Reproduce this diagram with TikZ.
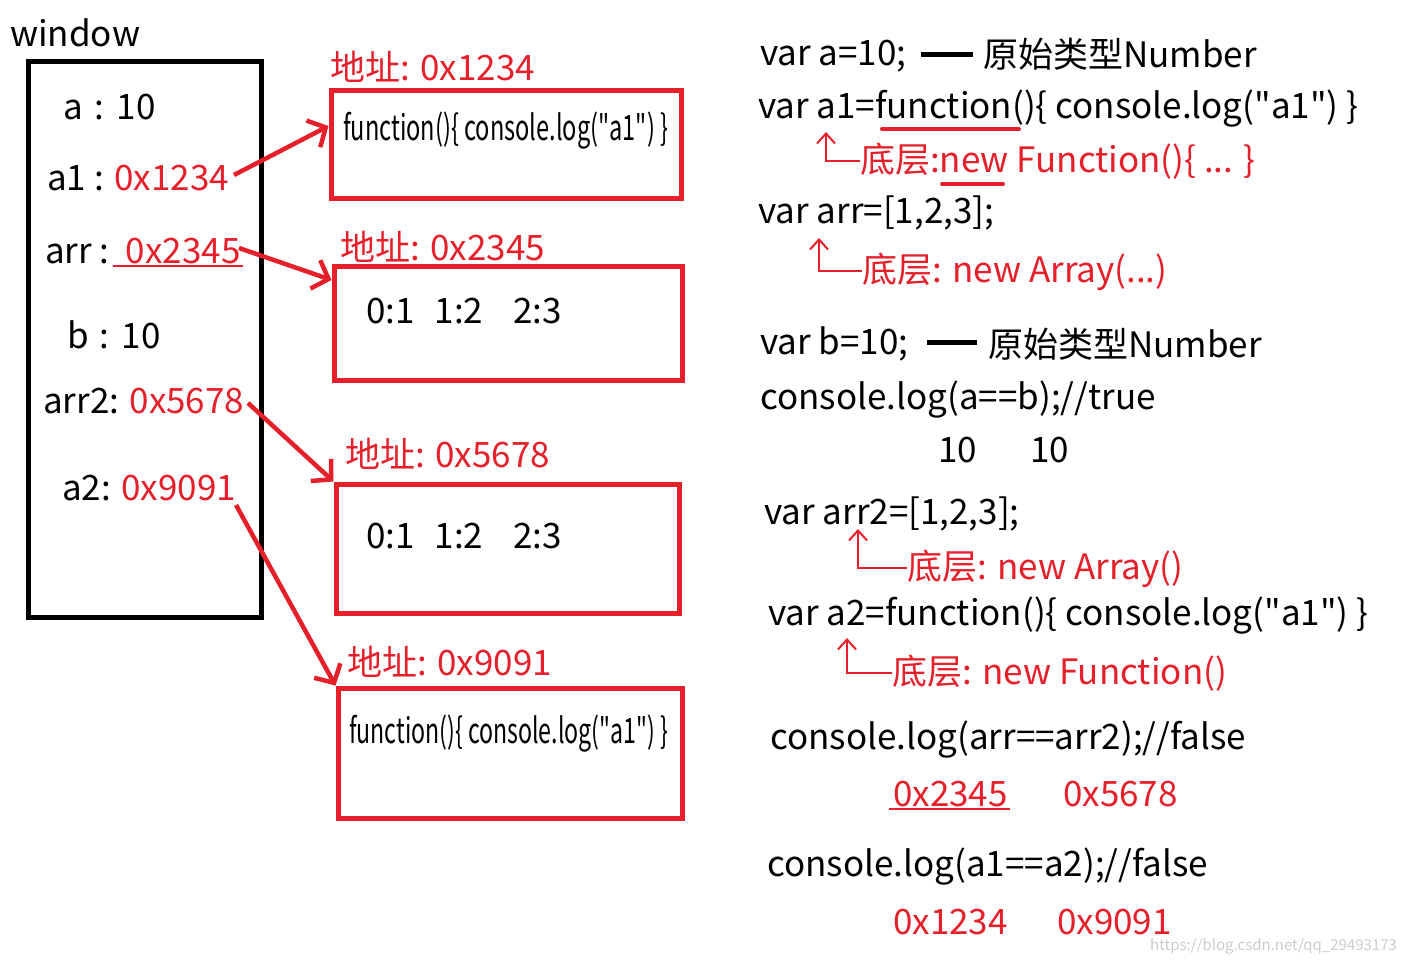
\documentclass[tikz,border=0pt]{standalone}
\usepackage{fontspec}
\setmainfont{Noto Sans CJK SC}[Ligatures=TeXOff]
\usetikzlibrary{arrows.meta}
\definecolor{myred}{RGB}{230,32,42}
\begin{document}
\begin{tikzpicture}[x=1pt,y=-1pt,
  t/.style={anchor=base west, inner sep=0pt, font=\fontsize{35}{42}\selectfont},
  rt/.style={t, text=myred},
  mem/.style={draw=myred, line width=5pt, inner sep=0pt},
  ptr/.style={draw=myred, line width=4.5pt, -{Straight Barb[length=14pt,width=30pt]}},
  hook/.style={draw=myred, line width=2pt, -{Straight Barb[length=10pt,width=18pt]}},
  ul/.style={draw=myred, line width=4pt, line cap=round},
  thinul/.style={draw=myred, line width=1.3pt},
  dashline/.style={draw=black, line width=5pt},
]
\useasboundingbox (0,0) rectangle (1403,962);
\fill[white] (0,0) rectangle (1403,962);

% window box
\node[draw, line width=5pt, inner sep=0pt, minimum width=233pt, minimum height=556pt] (winbox) at (144.5,339) {};
\node[t] (win) at (10,46) {window};
\node[t] (va) at (63,119) {a\hspace{4pt} : \hspace{2pt}10};
\node[t] (va1) at (47,190) {a1 : \textcolor{myred}{0x1234}};
\node[t] (varr) at (45,263) {arr : \textcolor{myred}{\,0x2345}};
\node[t] (vb) at (67,348) {b\hspace{3pt} : \hspace{2pt}10};
\node[t] (varr2) at (43,413) {arr2: \textcolor{myred}{0x5678}};
\node[t] (va2) at (62,500) {a2: \textcolor{myred}{0x9091}};
\coordinate (u1a) at (113,266);
\coordinate (u1b) at (243,266);
\draw[thinul] (u1a) -- (u1b);

% memory boxes
\node[mem, minimum width=350pt, minimum height=108pt] (m1) at (506,144) {};
\node[mem, minimum width=348pt, minimum height=114pt] (m2) at (508,323) {};
\node[mem, minimum width=343pt, minimum height=129pt] (m3) at (507.5,548.5) {};
\node[mem, minimum width=344pt, minimum height=130pt] (m4) at (510,753) {};

\node[rt] (l1) at (330,80) {地址: 0x1234};
\node[rt] (l2) at (340,260) {地址: 0x2345};
\node[rt] (l3) at (345,467) {地址: 0x5678};
\node[rt] (l4) at (347,675) {地址: 0x9091};

\node[t] (f1) at (343,140) {\resizebox{325pt}{\height}{function()\{ console.log("a1") \}}};
\node[t] (c2) at (366,323) {0:1\hspace{20pt}1:2\hspace{30pt}2:3};
\node[t] (c3) at (366,548) {0:1\hspace{20pt}1:2\hspace{30pt}2:3};
\node[t] (f4) at (349,743) {\resizebox{319pt}{\height}{function()\{ console.log("a1") \}}};

% pointers
\coordinate (s1) at (234,175);
\coordinate (s2) at (239,248);
\coordinate (s3) at (248,403);
\coordinate (s4) at (236,505);
\draw[ptr] (s1) -- ([yshift=18pt]m1.west);
\draw[ptr] (s2) -- ([yshift=43pt]m2.west);
\draw[ptr] (s3) -- (m3.north west);
\draw[ptr] (s4) -- (m4.north west);

% right column
\node[t] (r1) at (760,65) {var a=10;};
\node[t] (r1b) at (983,67) {原始类型Number};
\coordinate (d1a) at (921,54);
\coordinate (d1b) at (973,54);
\draw[dashline] (d1a) -- (d1b);

\node[t] (r2) at (758,118) {var a1=function()\{ console.log("a1") \}};
\coordinate (u2a) at (882,129);
\coordinate (u2b) at (1019,129);
\draw[ul] (u2a) -- (u2b);
\node[rt] (h1) at (860,172) {底层:new Function()\{ ... \}};
\coordinate (u3a) at (942,184);
\coordinate (u3b) at (1003,184);
\draw[ul] (u3a) -- (u3b);
\coordinate (k1) at (826,132);
\draw[hook] (h1.west) -| (k1);

\node[t] (r3) at (758,223) {var arr=[1,2,3];};
\node[rt] (h2) at (862,282) {底层: new Array(...)};
\coordinate (k2) at (819,238);
\draw[hook] (h2.west) -| (k2);

\node[t] (r4) at (760,354) {var b=10;};
\node[t] (r4b) at (988,357) {原始类型Number};
\coordinate (d2a) at (927,342);
\coordinate (d2b) at (977,342);
\draw[dashline] (d2a) -- (d2b);

\node[t] (r5) at (760,409) {console.log(a==b);//true};
\node[t] (r6a) at (938,462) {10};
\node[t] (r6b) at (1030,462) {10};

\node[t] (r7) at (764,524) {var arr2=[1,2,3];};
\node[rt] (h3) at (907,579) {底层: new Array()};
\coordinate (k3) at (858,529);
\draw[hook] (h3.west) -| (k3);

\node[t] (r8) at (768,625) {var a2=function()\{ console.log("a1") \}};
\node[rt] (h4) at (892,684) {底层: new Function()};
\coordinate (k4) at (847,638);
\draw[hook] (h4.west) -| (k4);

\node[t] (r9) at (770,749) {console.log(arr==arr2);//false};
\node[rt] (r10a) at (893,806) {0x2345};
\node[rt] (r10b) at (1063,806) {0x5678};
\coordinate (u4a) at (889,809);
\coordinate (u4b) at (1010,809);
\draw[thinul] (u4a) -- (u4b);

\node[t] (r11) at (767,876) {console.log(a1==a2);//false};
\node[rt] (r12a) at (893,934) {0x1234};
\node[rt] (r12b) at (1057,934) {0x9091};

\node[anchor=base west, inner sep=0pt, font=\fontsize{15}{18}\selectfont, text=black!20] (wm) at (1150,950) {https://blog.csdn.net/qq\_29493173};
\end{tikzpicture}
\end{document}
